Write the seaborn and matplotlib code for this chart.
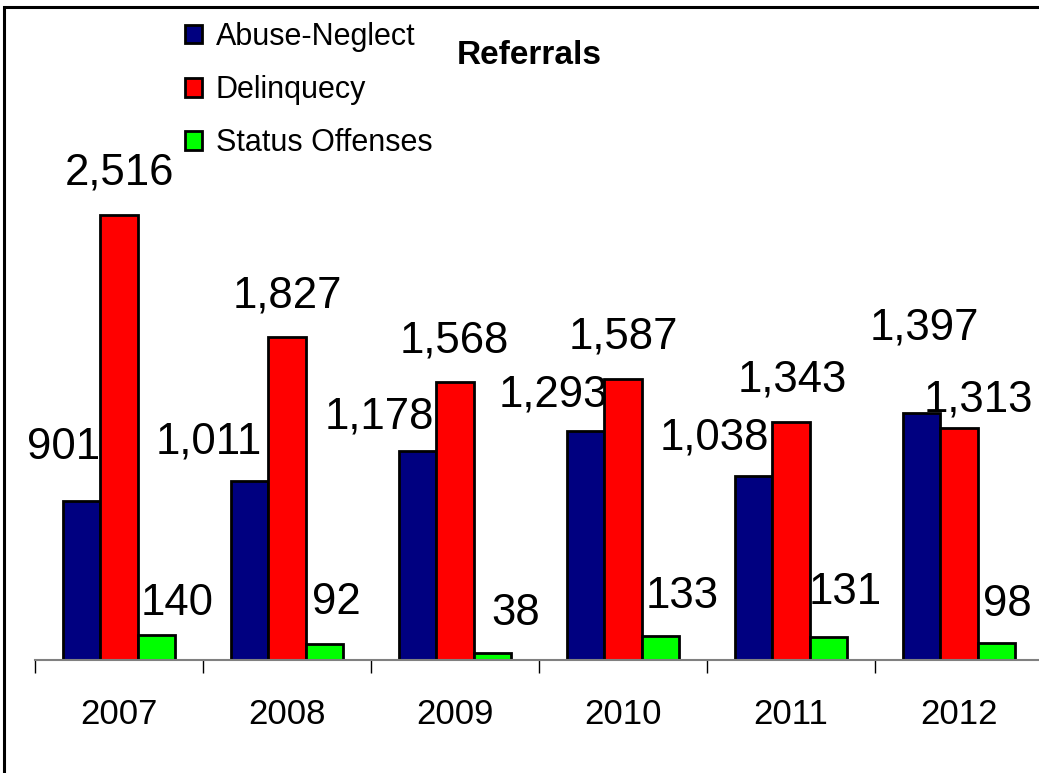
import matplotlib
matplotlib.use("Agg")
import matplotlib.pyplot as plt
from matplotlib.patches import Rectangle
import seaborn as sns
import pandas as pd
import numpy as np

# data
years = ["2007", "2008", "2009", "2010", "2011", "2012"]
series = ["Abuse-Neglect", "Delinquecy", "Status Offenses"]
abuse_neglect = [901, 1011, 1178, 1293, 1038, 1397]
delinquency = [2516, 1827, 1568, 1587, 1343, 1313]
status_offenses = [140, 92, 38, 133, 131, 98]
colors = ["#000080", "#FF0000", "#00FF00"]

# hand-placed label offsets (pixels, label centre relative to bar top)
label_offsets = [
    [(-18, 53), (-41, 39), (-38, 34), (-32, 36), (-39, 38), (3, 85)],
    [(0, 42), (0, 41), (-1, 41), (0, 42), (1, 42), (19, 28)],
    [(21, 32), (12, 41), (23, 40), (22, 40), (17, 44), (11, 38)],
]

df = pd.DataFrame({
    "year": years * 3,
    "series": [s for s in series for _ in years],
    "value": abuse_neglect + delinquency + status_offenses,
})

sns.set_style("white")
plt.rcParams["font.family"] = ["Liberation Sans", "DejaVu Sans"]
plt.rcParams["text.color"] = "black"
plt.rcParams["xtick.color"] = "black"

fig = plt.figure(figsize=(10.39, 7.73), dpi=100)
ax = fig.add_axes([35 / 1039, 113 / 773, (1043 - 35) / 1039, (660 - 129) / 773])

sns.barplot(data=df, x="year", y="value", hue="series", palette=colors,
            width=0.67, gap=0, edgecolor="black", linewidth=2, saturation=1,
            ax=ax)
ax.set_ylim(0, 3000)
ax.set_xlim(-0.5, 5.5)

for j, cont in enumerate(ax.containers):
    for i, bar in enumerate(cont):
        dx, dy = label_offsets[j][i]
        ax.annotate(f"{int(bar.get_height()):,}",
                    (bar.get_x() + bar.get_width() / 2, bar.get_height()),
                    xytext=(dx, dy), textcoords="offset pixels", color="black",
                    ha="center", va="center", fontsize=31.5, annotation_clip=False)

handles, labels = ax.get_legend_handles_labels()
ax.legend_.remove()
fig.legend(handles, labels, loc="upper left", bbox_to_anchor=(185 / 1039, 1 - 22 / 773),
           frameon=False, fontsize=22, handlelength=0.55, handleheight=0.55,
           handletextpad=0.45, labelspacing=0.76, borderpad=0, borderaxespad=0,
           labelcolor="black")

fig.text(529 / 1039, 1 - 56 / 773, "Referrals", fontsize=24, fontweight="bold",
         ha="center", va="center", color="black")

for s in ["left", "right", "top"]:
    ax.spines[s].set_visible(False)
ax.spines["bottom"].set_color("#808080")
ax.spines["bottom"].set_linewidth(1.5)
ax.set_yticks([])
ax.set_xlabel("")
ax.set_ylabel("")
ax.set_xticks(np.arange(-0.5, 6, 1), minor=True)
ax.tick_params(axis="x", which="major", bottom=False, pad=24, labelsize=25,
               labelcolor="black")
ax.tick_params(axis="x", which="minor", bottom=True, length=9, width=1,
               color="black", direction="out")

fig.patches.append(Rectangle((4 / 1039, -0.05), 1.1, 1 - 7 / 773 + 0.05,
                             transform=fig.transFigure, fill=False, lw=2.2,
                             ec="black"))

fig.savefig("out.png", dpi=100)
